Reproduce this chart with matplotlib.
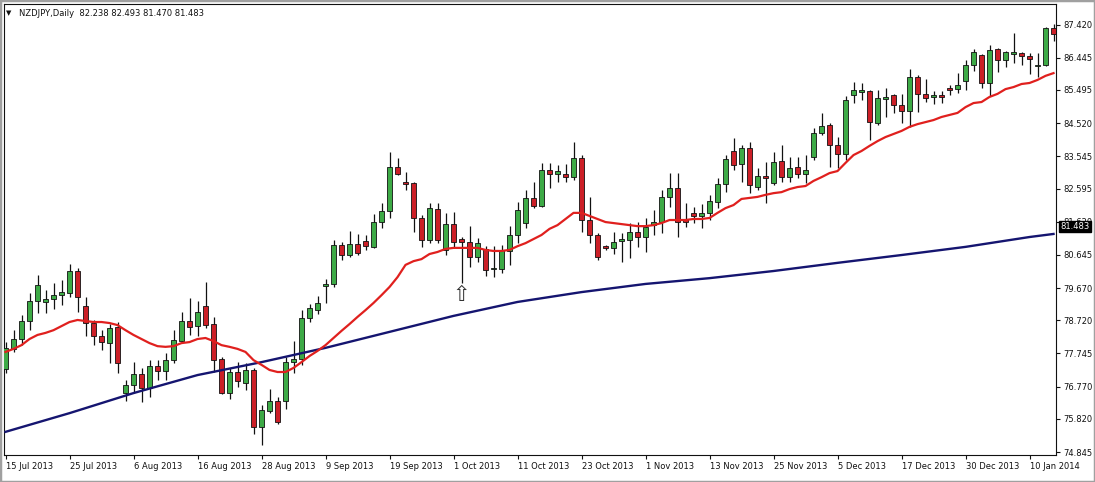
import numpy as np
import matplotlib.pyplot as plt
from matplotlib.patches import Rectangle
from matplotlib import transforms

plt.rcParams['font.family'] = ['DejaVu Sans']

title = 'NZDJPY,Daily  82.238 82.493 81.470 81.483'
last_price = 81.483

# one label every 8 daily bars, starting at bar 0
date_labels = ['15 Jul 2013', '25 Jul 2013', '6 Aug 2013', '16 Aug 2013', '28 Aug 2013',
               '9 Sep 2013', '19 Sep 2013', '1 Oct 2013', '11 Oct 2013', '23 Oct 2013',
               '1 Nov 2013', '13 Nov 2013', '25 Nov 2013', '5 Dec 2013', '17 Dec 2013',
               '30 Dec 2013', '10 Jan 2014']
label_step = 8

price_ticks = [87.420, 86.445, 85.495, 84.520, 83.545, 82.595, 81.620,
               80.645, 79.670, 78.720, 77.745, 76.770, 75.820, 74.845]

open_ = [77.29, 77.88, 78.17, 78.70, 79.29, 79.26, 79.35, 79.46, 79.52, 80.17,
         79.14, 78.64, 78.26, 78.05, 78.52, 76.58, 76.82, 77.14, 76.73, 77.38,
         77.23, 77.55, 78.11, 78.70, 78.55, 79.14, 78.61, 77.58, 76.58, 77.20,
         76.88, 77.26, 75.58, 76.05, 76.35, 76.35, 77.49, 77.58, 78.79, 79.02,
         79.73, 79.79, 80.93, 80.64, 80.96, 81.05, 80.88, 81.61, 81.93, 83.23,
         82.79, 82.76, 81.73, 81.08, 81.99, 80.79, 81.55, 81.11, 81.02, 80.58,
         80.82, 80.23, 80.23, 80.76, 81.23, 81.58, 82.32, 82.08, 83.14, 83.02,
         83.02, 82.93, 83.49, 81.67, 81.23, 80.90, 80.85, 81.05, 81.08, 81.32,
         81.17, 81.52, 81.61, 82.35, 82.61, 81.70, 81.88, 81.79, 81.88, 82.20,
         82.73, 83.70, 83.32, 83.79, 82.64, 82.96, 82.76, 83.40, 82.93, 83.23,
         83.02, 83.52, 84.23, 84.46, 83.88, 83.61, 85.35, 85.43, 85.46, 84.52,
         85.23, 85.35, 85.05, 84.88, 85.88, 85.38, 85.29, 85.35, 85.55, 85.52,
         85.76, 86.23, 86.52, 85.70, 86.70, 86.38, 86.55, 86.58, 86.49, 86.20,
         86.23, 87.32]
high = [78.08, 78.43, 78.88, 79.52, 80.05, 79.61, 79.82, 79.91, 80.38, 80.26,
        79.41, 78.73, 78.43, 78.61, 78.67, 76.96, 77.49, 77.32, 77.55, 77.55,
        77.76, 78.43, 78.96, 79.38, 79.29, 79.85, 78.82, 77.64, 77.32, 77.49,
        77.46, 77.32, 76.23, 76.70, 76.46, 77.64, 78.11, 79.02, 79.20, 79.43,
        79.93, 81.08, 81.02, 81.35, 81.26, 81.23, 81.85, 82.17, 83.67, 83.49,
        83.08, 82.79, 81.82, 82.17, 82.17, 81.88, 81.90, 81.17, 81.49, 81.14,
        80.90, 80.90, 80.93, 81.49, 82.20, 82.55, 82.79, 83.35, 83.35, 83.29,
        83.32, 83.96, 83.58, 82.35, 81.29, 80.93, 81.32, 81.29, 81.58, 81.61,
        81.73, 81.96, 82.55, 83.05, 83.05, 82.17, 82.05, 82.14, 82.41, 82.90,
        83.58, 84.08, 83.88, 83.96, 83.20, 83.38, 83.67, 83.88, 83.52, 83.52,
        83.58, 84.38, 84.82, 84.52, 84.11, 85.32, 85.73, 85.70, 85.49, 85.49,
        85.55, 85.38, 85.38, 86.11, 85.93, 85.82, 85.46, 85.46, 85.64, 85.99,
        86.38, 86.70, 86.55, 86.82, 86.73, 86.64, 87.17, 86.61, 86.58, 86.58,
        87.35, 87.43]
low = [77.17, 77.79, 77.99, 78.43, 78.93, 78.93, 79.05, 79.17, 79.41, 78.96,
       78.26, 77.99, 77.85, 77.46, 77.17, 76.35, 76.58, 76.32, 76.46, 76.96,
       76.96, 77.46, 78.05, 78.29, 78.26, 78.49, 77.20, 76.55, 76.41, 76.76,
       76.67, 75.38, 75.05, 75.99, 75.67, 76.11, 77.17, 77.41, 78.67, 78.90,
       79.23, 79.70, 80.49, 80.58, 80.64, 80.79, 80.85, 81.43, 81.73, 82.99,
       82.55, 81.32, 80.88, 80.99, 80.99, 80.64, 80.85, 79.82, 80.29, 80.43,
       80.02, 79.99, 80.11, 80.35, 80.99, 81.43, 82.02, 82.05, 82.61, 82.79,
       82.79, 82.85, 81.32, 80.99, 80.49, 80.79, 80.67, 80.43, 80.55, 80.88,
       80.73, 81.23, 81.29, 82.05, 81.17, 81.46, 81.58, 81.43, 81.67, 82.02,
       82.49, 83.14, 82.79, 82.46, 82.55, 82.17, 82.70, 82.79, 82.79, 82.90,
       82.76, 83.43, 84.17, 83.23, 83.20, 83.43, 85.11, 85.20, 84.02, 84.46,
       84.70, 84.82, 84.52, 84.41, 84.85, 85.14, 85.08, 85.11, 85.35, 85.41,
       85.49, 86.05, 85.55, 85.32, 86.02, 86.17, 86.29, 86.23, 85.96, 85.88,
       86.20, 86.93]
close = [77.91, 78.17, 78.70, 79.29, 79.76, 79.35, 79.46, 79.55, 80.17, 79.41,
         78.64, 78.26, 78.08, 78.49, 77.46, 76.82, 77.14, 76.73, 77.38, 77.23,
         77.55, 78.14, 78.70, 78.52, 78.96, 78.58, 77.55, 76.58, 77.20, 76.93,
         77.26, 75.58, 76.08, 76.35, 75.73, 77.49, 77.58, 78.79, 79.08, 79.23,
         79.79, 80.93, 80.64, 80.96, 80.70, 80.90, 81.61, 81.93, 83.23, 83.02,
         82.73, 81.73, 81.08, 82.02, 81.08, 81.55, 81.02, 81.02, 80.58, 80.99,
         80.20, 80.26, 80.79, 81.23, 81.96, 82.32, 82.08, 83.14, 83.02, 83.11,
         82.93, 83.49, 81.67, 81.23, 80.58, 80.85, 81.02, 81.11, 81.32, 81.17,
         81.46, 81.61, 82.35, 82.61, 81.61, 81.61, 81.79, 81.88, 82.23, 82.73,
         83.46, 83.29, 83.79, 82.70, 82.96, 82.90, 83.38, 82.93, 83.20, 83.02,
         83.14, 84.23, 84.43, 83.88, 83.61, 85.20, 85.49, 85.49, 84.55, 85.26,
         85.29, 85.05, 84.88, 85.88, 85.38, 85.26, 85.35, 85.29, 85.49, 85.64,
         86.23, 86.61, 85.70, 86.67, 86.38, 86.61, 86.61, 86.49, 86.41, 86.23,
         87.32, 87.14]

# red moving average, one value per bar
ma_fast = [77.79, 77.88, 77.99, 78.17, 78.29, 78.35, 78.43, 78.55, 78.67, 78.73,
           78.70, 78.67, 78.67, 78.64, 78.58, 78.43, 78.29, 78.17, 78.05, 77.96,
           77.94, 77.96, 78.05, 78.08, 78.17, 78.20, 78.11, 77.99, 77.94, 77.88,
           77.79, 77.55, 77.41, 77.26, 77.20, 77.20, 77.32, 77.49, 77.67, 77.82,
           77.99, 78.20, 78.41, 78.61, 78.82, 79.02, 79.23, 79.46, 79.70, 79.99,
           80.35, 80.46, 80.52, 80.67, 80.73, 80.82, 80.85, 80.85, 80.85, 80.85,
           80.79, 80.76, 80.76, 80.79, 80.90, 80.99, 81.11, 81.23, 81.41, 81.52,
           81.70, 81.88, 81.88, 81.79, 81.70, 81.61, 81.58, 81.55, 81.52, 81.49,
           81.49, 81.52, 81.58, 81.67, 81.67, 81.67, 81.70, 81.70, 81.73, 81.88,
           82.02, 82.11, 82.29, 82.32, 82.35, 82.41, 82.46, 82.49, 82.58, 82.64,
           82.67, 82.82, 82.93, 83.05, 83.11, 83.35, 83.58, 83.70, 83.85, 83.99,
           84.11, 84.20, 84.29, 84.41, 84.49, 84.55, 84.61, 84.70, 84.76, 84.82,
           84.99, 85.11, 85.14, 85.29, 85.38, 85.52, 85.58, 85.67, 85.70, 85.79,
           85.91, 85.99]

# navy long moving average, read at every labelled bar
ma_slow_bar = [0, 8, 16, 24, 32, 40, 48, 56, 64, 72, 80, 88, 96, 104, 112, 120, 128, 131]
ma_slow = [75.44, 75.99, 76.58, 77.11, 77.49, 77.91, 78.38, 78.85, 79.26, 79.55,
           79.79, 79.96, 80.17, 80.41, 80.64, 80.88, 81.17, 81.26]

arrow_bar = 57

W, H = 1095, 482
fig = plt.figure(figsize=(W / 100, H / 100), dpi=100)
fig.patch.set_facecolor('white')
ax = fig.add_axes([3.5 / W, (H - 455) / H, (1056 - 3.5) / W, (455 - 4) / H])

x = np.arange(len(open_))
o = np.array(open_)
c = np.array(close)
up = c >= o
colors = np.where(up, '#3daa46', '#cc1f27')
bottoms = np.minimum(o, c)
heights = np.maximum(np.abs(c - o), 0.02)

ax.vlines(x, low, high, color='#111111', lw=0.9, zorder=2)
ax.bar(x, heights, bottom=bottoms, width=0.64, color=colors,
       edgecolor='#111111', linewidth=0.6, zorder=3)

ax.plot(ma_slow_bar, ma_slow, color='#151570', lw=1.7, zorder=4)
ax.plot(x, ma_fast, color='#e0201e', lw=1.6, zorder=4)

ax.text(arrow_bar, low[arrow_bar] - 0.05, '\u21e7', ha='center', va='top',
        fontsize=15, color='#333333', zorder=5)

ax.set_xlim(-0.25, 131.31)
ax.set_ylim(74.759, 88.023)

ax.yaxis.tick_right()
ax.set_yticks(price_ticks)
ax.set_yticklabels(['%.3f' % v for v in price_ticks])
ax.tick_params(axis='y', direction='out', length=3, width=0.8, pad=2,
               labelsize=6, colors='#111111')

xt = np.arange(len(date_labels)) * label_step
ax.set_xticks(xt)
ax.set_xticklabels(date_labels)
offset = transforms.ScaledTranslation(-1 / 100, 0, fig.dpi_scale_trans)
for lab in ax.get_xticklabels():
    lab.set_horizontalalignment('left')
    lab.set_transform(lab.get_transform() + offset)
ax.tick_params(axis='x', direction='out', length=3, width=0.8, pad=2,
               labelsize=6, colors='#111111')

for s in ax.spines.values():
    s.set_color('#111111')
    s.set_linewidth(0.8)

# current price marker on the price scale
tr = transforms.blended_transform_factory(ax.transAxes, ax.transData)
ax.text(1.004, last_price, '%.3f' % last_price, transform=tr, fontsize=6,
        color='white', ha='left', va='center', zorder=6,
        bbox=dict(boxstyle='square,pad=0.15', fc='black', ec='black'))

fig.text(6 / W, 1 - 13 / H, '\u25bc', fontsize=5, va='center', ha='left', color='#111111')
fig.text(19 / W, 1 - 13 / H, title, fontsize=6, va='center', ha='left', color='#111111')

fig.patches.append(Rectangle((0, 0), 1, 1, transform=fig.transFigure, fill=False,
                             edgecolor='#a0a0a0', lw=2.5))

fig.savefig('out.png', dpi=100)
